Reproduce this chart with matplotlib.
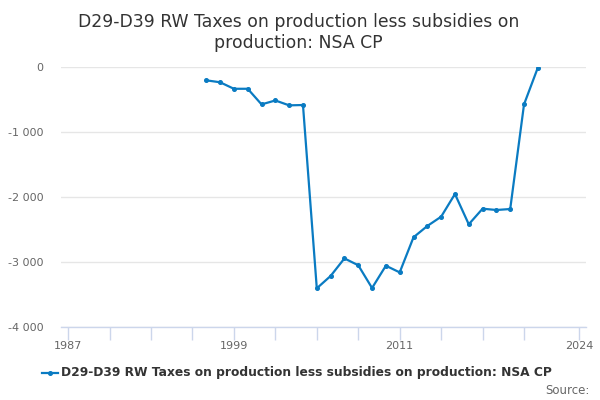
import matplotlib.pyplot as plt
from matplotlib.ticker import FuncFormatter

years = list(range(1997, 2022))
values = [
    -205, -235, -335, -335, -575, -515, -590, -585,
    -3405, -3215, -2945, -3050, -3400, -3057, -3160,
    -2620, -2446, -2303, -1954, -2420, -2180, -2200, -2185,
    -575, -10,
]
tick_years = [1987, 1990, 1993, 1996, 1999, 2002, 2005, 2008, 2011, 2014, 2017, 2020, 2024]
labelled_years = [1987, 1999, 2011, 2024]
y_ticks = [0, -1000, -2000, -3000, -4000]

title = "D29-D39 RW Taxes on production less subsidies on\nproduction: NSA CP"
series_name = "D29-D39 RW Taxes on production less subsidies on production: NSA CP"

line_color = "#0a7bc2"
text_color = "#333333"
label_color = "#666666"
grid_color = "#e6e6e6"
axis_color = "#ccd6eb"


def thousands(v, pos):
    return f"{int(v):,}".replace(",", " ")


fig = plt.figure(figsize=(6, 4), dpi=100)
ax = fig.add_axes([0.102, 0.1825, 0.875, 0.65])

ax.plot(years, values, color=line_color, linewidth=1.6, marker="o", markersize=2.6)

ax.set_xlim(1986.5, 2024.5)
ax.set_ylim(-4000, 0)
ax.set_yticks(y_ticks)
ax.yaxis.set_major_formatter(FuncFormatter(thousands))
ax.set_xticks(tick_years)
ax.set_xticklabels([str(y) if y in labelled_years else "" for y in tick_years])

ax.grid(axis="y", color=grid_color, linewidth=1)
ax.set_axisbelow(True)
for side in ["top", "right", "left"]:
    ax.spines[side].set_visible(False)
ax.spines["bottom"].set_color(axis_color)
ax.spines["bottom"].set_linewidth(1)
ax.tick_params(axis="y", length=0, pad=13, labelsize=8, labelcolor=label_color)
ax.tick_params(axis="x", length=9, width=1, color=axis_color, pad=1, labelsize=8, labelcolor=label_color)

fig.text(0.497, 0.968, title, ha="center", va="top", fontsize=12.4, color=text_color, linespacing=1.2)

# legend drawn by hand, centred under the plot like the original
fig.lines.append(plt.Line2D([0.07, 0.097], [0.068, 0.068], transform=fig.transFigure,
                            color=line_color, linewidth=1.6))
fig.lines.append(plt.Line2D([0.0835], [0.068], transform=fig.transFigure, color=line_color,
                            marker="o", markersize=2.6))
fig.text(0.102, 0.068, series_name, ha="left", va="center", fontsize=8.85, fontweight="bold", color=text_color)
fig.text(0.982, 0.025, "Source:", ha="right", va="center", fontsize=8.5, color=label_color)

fig.savefig("out.png", dpi=100)
